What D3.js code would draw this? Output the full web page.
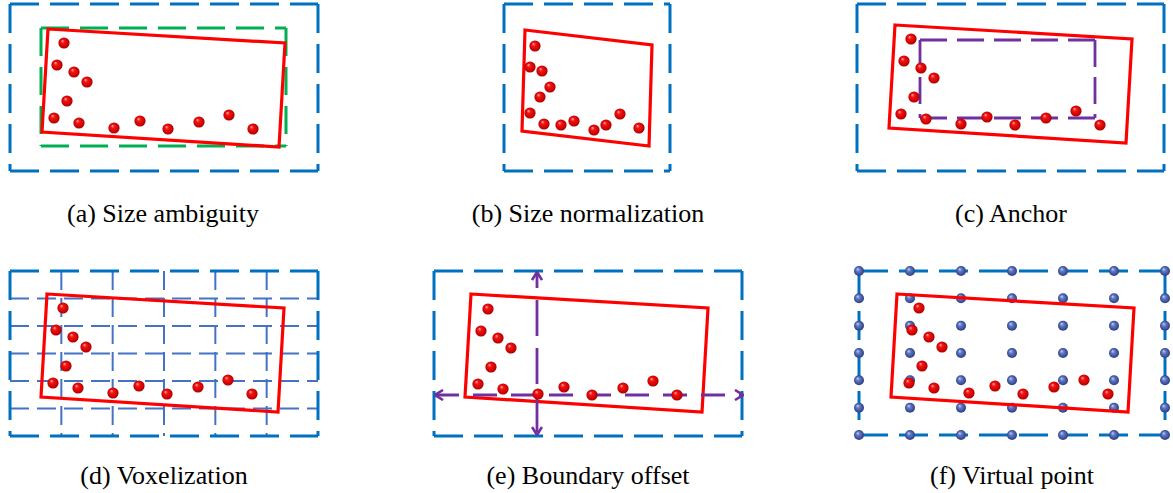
<!DOCTYPE html>
<html>
<head>
<meta charset="utf-8">
<script src="https://cdn.jsdelivr.net/npm/d3@7"></script>
<style>
  body { margin: 0; background: #fff; }
  .cap { font-family: "Liberation Serif", "DejaVu Serif", serif; font-size: 26px; fill: #000; }
</style>
</head>
<body>
<script>
// ---- data ----
var captions = ["(a) Size ambiguity", "(b) Size normalization", "(c) Anchor",
                "(d) Voxelization", "(e) Boundary offset", "(f) Virtual point"];

// object points, local units from the box corner
var objectPts = [[16,14],[9,36],[26,43],[39,53],[19,72],[6,89],[31,94],
                 [66,99],[92,92],[120,100],[151,93],[181,86],[205,100]];
// rotated ground-truth box corners
var objectBox = [[0,0],[237,14],[231,118],[-6,103]];

// (b) the same object after size normalization
var normPts = [[10,16],[5,37],[17,41],[25,57],[15,67],[5,83],[19,94],
               [36,95],[49,91],[69,100],[81,95],[95,84],[114,98]];
var normBox = [[0,0],[127,15],[124,116],[-3,101]];

// (c) anchor box, local units [x0, y0, x1, y1]
var anchorBox = [25, 15, 200, 93];

var gridDivs = 6;

// ---- layout ----
var width = 1173, height = 493;
var panels = [
  {frame: [10, 4, 318, 171],    box: [48, 29],  pts: [48, 29],  cap: [163, 222]},
  {frame: [504, 4, 670, 171],   box: [525, 30], pts: [525, 30], cap: [588, 222]},
  {frame: [857, 4, 1164, 171],  box: [895, 25], pts: [895, 25], cap: [1011, 222]},
  {frame: [10, 271, 318, 436],  box: [47, 294], pts: [47, 294], cap: [164, 484]},
  {frame: [434, 271, 742, 436], box: [471, 294], pts: [472, 295], cap: [588, 484]},
  {frame: [859, 271, 1165, 435], box: [897, 294], pts: [903, 294], cap: [1012, 484]}
];

var BLUE = "#0070C0", RED = "#FF0000", GREEN = "#00B050", PURPLE = "#7030A0", GRID = "#4472C4";

var svg = d3.select("body").append("svg")
    .attr("width", width)
    .attr("height", height);

var defs = svg.append("defs");
var rg = defs.append("radialGradient").attr("id", "redBall")
    .attr("cx", "50%").attr("cy", "50%").attr("r", "55%").attr("fx", "35%").attr("fy", "30%");
rg.append("stop").attr("offset", "0%").attr("stop-color", "#ffb0b0");
rg.append("stop").attr("offset", "30%").attr("stop-color", "#f41414");
rg.append("stop").attr("offset", "80%").attr("stop-color", "#c80000");
rg.append("stop").attr("offset", "100%").attr("stop-color", "#7a0000");

var bg = defs.append("radialGradient").attr("id", "blueBall")
    .attr("cx", "50%").attr("cy", "50%").attr("r", "55%").attr("fx", "35%").attr("fy", "30%");
bg.append("stop").attr("offset", "0%").attr("stop-color", "#c4d0f2");
bg.append("stop").attr("offset", "35%").attr("stop-color", "#5f79c6");
bg.append("stop").attr("offset", "100%").attr("stop-color", "#26367a");

defs.append("marker").attr("id", "chev")
    .attr("viewBox", "0 0 10 12").attr("refX", 9).attr("refY", 6)
    .attr("markerWidth", 10).attr("markerHeight", 12)
    .attr("markerUnits", "userSpaceOnUse")
    .attr("orient", "auto-start-reverse")
  .append("path")
    .attr("d", "M1,1 L9,6 L1,11")
    .attr("fill", "none").attr("stroke", PURPLE).attr("stroke-width", 2.6);

// draw a dashed rectangle side by side so each corner starts with a dash
function dashedRect(g, f, color, w, dash) {
  var sides = [[f[0], f[1], f[2], f[1]], [f[2], f[1], f[2], f[3]],
               [f[0], f[3], f[2], f[3]], [f[0], f[1], f[0], f[3]]];
  g.selectAll(null).data(sides).enter().append("line")
    .attr("x1", function(d){ return d[0]; }).attr("y1", function(d){ return d[1]; })
    .attr("x2", function(d){ return d[2]; }).attr("y2", function(d){ return d[3]; })
    .attr("stroke", color).attr("stroke-width", w)
    .attr("stroke-dasharray", dash);
}

function localScales(origin) {
  var x = d3.scaleLinear().domain([0, 100]).range([origin[0], origin[0] + 100]);
  var y = d3.scaleLinear().domain([0, 100]).range([origin[1], origin[1] + 100]);
  return {x: x, y: y};
}

function drawBox(g, corners, origin) {
  var s = localScales(origin);
  var line = d3.line().x(function(d){ return s.x(d[0]); }).y(function(d){ return s.y(d[1]); });
  g.append("path")
    .attr("d", line(corners) + "Z")
    .attr("fill", "none").attr("stroke", RED).attr("stroke-width", 3.2)
    .attr("stroke-linejoin", "miter");
}

function drawPoints(g, pts, origin) {
  var s = localScales(origin);
  g.selectAll(null).data(pts).enter().append("circle")
    .attr("cx", function(d){ return s.x(d[0]); })
    .attr("cy", function(d){ return s.y(d[1]); })
    .attr("r", 5.6)
    .attr("fill", "url(#redBall)");
}

panels.forEach(function(p, i) {
  var g = svg.append("g").attr("class", "panel");
  var f = p.frame;

  if (i === 3) {
    // voxel grid
    var gx = d3.scaleLinear().domain([0, gridDivs]).range([f[0], f[2]]);
    var gy = d3.scaleLinear().domain([0, gridDivs]).range([f[1], f[3]]);
    var inner = d3.range(1, gridDivs);
    g.selectAll(null).data(inner).enter().append("line")
      .attr("x1", f[0]).attr("x2", f[2])
      .attr("y1", function(d){ return gy(d); }).attr("y2", function(d){ return gy(d); })
      .attr("stroke", GRID).attr("stroke-width", 2).attr("stroke-dasharray", "19,8");
    g.selectAll(null).data(inner).enter().append("line")
      .attr("y1", f[1]).attr("y2", f[3])
      .attr("x1", function(d){ return gx(d); }).attr("x2", function(d){ return gx(d); })
      .attr("stroke", GRID).attr("stroke-width", 2).attr("stroke-dasharray", "19,8");
  }

  dashedRect(g, f, BLUE, 3, "29,11");

  if (i === 0) dashedRect(g, [41, 28, 286, 146], GREEN, 3, "28,11");

  if (i === 5) {
    var vx = d3.scaleLinear().domain([0, gridDivs]).range([f[0], f[2]]);
    var vy = d3.scaleLinear().domain([0, gridDivs]).range([f[1], f[3]]);
    var cells = d3.cross(d3.range(gridDivs + 1), d3.range(gridDivs + 1));
    g.selectAll(null).data(cells).enter().append("circle")
      .attr("cx", function(d){ return vx(d[0]); })
      .attr("cy", function(d){ return vy(d[1]); })
      .attr("r", 5)
      .attr("fill", "url(#blueBall)");
  }

  if (i === 1) drawBox(g, normBox, p.box);
  else drawBox(g, objectBox, p.box);

  if (i === 2) {
    var s = localScales(p.box);
    dashedRect(g, [s.x(anchorBox[0]), s.y(anchorBox[1]), s.x(anchorBox[2]), s.y(anchorBox[3])],
               PURPLE, 2.8, "27,10");
  }

  if (i === 4) {
    // boundary offset cross
    var cx = 537, cy = 395;
    g.append("line")
      .attr("x1", cx).attr("y1", f[1] + 1).attr("x2", cx).attr("y2", f[3] - 1)
      .attr("stroke", PURPLE).attr("stroke-width", 2.8).attr("stroke-dasharray", "36,12")
      .attr("stroke-dashoffset", 20)
      .attr("marker-start", "url(#chev)").attr("marker-end", "url(#chev)");
    g.append("line")
      .attr("x1", f[0] + 1).attr("y1", cy).attr("x2", f[2] + 1).attr("y2", cy)
      .attr("stroke", PURPLE).attr("stroke-width", 2.8).attr("stroke-dasharray", "24,14")
      .attr("marker-start", "url(#chev)").attr("marker-end", "url(#chev)");
  }

  if (i === 1) drawPoints(g, normPts, p.pts);
  else drawPoints(g, objectPts, p.pts);

  svg.append("text").attr("class", "cap")
    .attr("x", p.cap[0]).attr("y", p.cap[1])
    .attr("text-anchor", "middle")
    .text(captions[i]);
});
</script>
</body>
</html>
